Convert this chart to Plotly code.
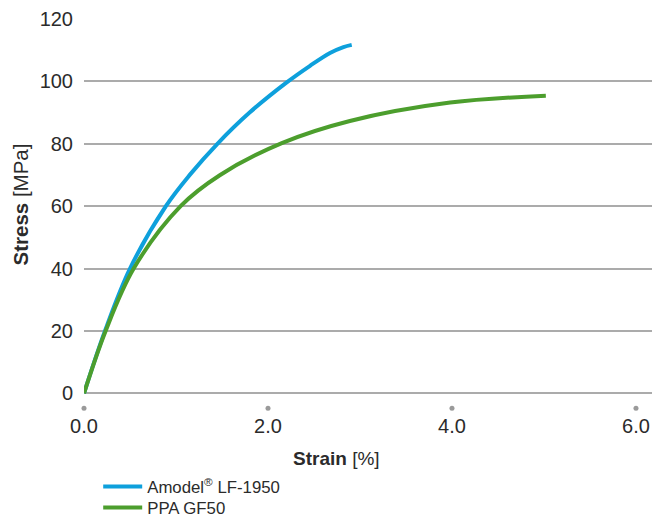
import plotly.graph_objects as go

# ---- data ----
amodel_strain = [0.0, 0.228, 0.50, 0.89, 1.152, 1.45, 1.80, 2.20, 2.457, 2.674, 2.82, 2.91]
amodel_stress = [0.0, 20.0, 40.0, 60.0, 70.1, 80.0, 90.0, 99.6, 105.0, 109.1, 111.0, 111.7]

ppa_strain = [0.0, 0.235, 0.54, 1.05, 1.48, 2.15, 2.89, 3.98, 5.02]
ppa_stress = [0.0, 20.0, 40.0, 60.0, 70.0, 80.2, 87.3, 93.2, 95.4]

series_names = ["Amodel<sup>®</sup> LF-1950", "PPA GF50"]
x_ticks = [0, 2, 4, 6]
x_tick_labels = ["0.0", "2.0", "4.0", "6.0"]
y_ticks = [0, 20, 40, 60, 80, 100, 120]
tick_dot_level = -4.8

BLUE = "#0ea0dc"
GREEN = "#4c9e2d"
GRID = "#ababab"
TEXT = "#2b2b2b"
FONT = "Liberation Sans"

fig = go.Figure()
fig.add_trace(go.Scatter(x=amodel_strain, y=amodel_stress, mode="lines",
                         line=dict(color=BLUE, width=4, shape="spline", smoothing=1.0),
                         name=series_names[0], legend="legend"))
fig.add_trace(go.Scatter(x=ppa_strain, y=ppa_stress, mode="lines",
                         line=dict(color=GREEN, width=4, shape="spline", smoothing=1.0),
                         name=series_names[1], legend="legend2"))
# tick dots under x axis
fig.add_trace(go.Scatter(x=x_ticks, y=[tick_dot_level] * len(x_ticks), mode="markers",
                         marker=dict(color="#9a9a9a", size=5), cliponaxis=False,
                         showlegend=False, hoverinfo="skip"))

legend_common = dict(xanchor="left", yanchor="top",
                     font=dict(size=16.8, color=TEXT, family=FONT),
                     bgcolor="rgba(0,0,0,0)", itemwidth=39)

fig.update_layout(
    width=652, height=517,
    margin=dict(l=84, r=0, t=19, b=105, autoexpand=False),
    paper_bgcolor="white", plot_bgcolor="white",
    font=dict(family=FONT, color=TEXT, size=18),
    showlegend=True,
    legend=dict(x=0.025, y=(412 - 469) / 393, **legend_common),
    legend2=dict(x=0.025, y=(412 - 490) / 393, **legend_common),
    xaxis=dict(range=[0, 6.174], tickvals=x_ticks, ticktext=x_tick_labels,
               showgrid=False, zeroline=False, showline=False, ticks="",
               tickfont=dict(size=20, color=TEXT, family=FONT)),
    yaxis=dict(range=[-6, 120], tickvals=y_ticks,
               showgrid=True, gridcolor=GRID, gridwidth=1.5, zeroline=False, showline=False,
               ticks="outside", ticklen=6, tickcolor="rgba(0,0,0,0)",
               tickfont=dict(size=20, color=TEXT, family=FONT)),
    annotations=[
        dict(text="<b>Strain</b> [%]", xref="paper", yref="paper",
             x=(336 - 84) / 568, y=(412 - 458) / 393, xanchor="center", yanchor="middle",
             showarrow=False, font=dict(size=19, color=TEXT, family=FONT)),
        dict(text="<b>Stress</b> [MPa]", xref="paper", yref="paper",
             x=(19.5 - 84) / 568, y=(412 - 205) / 393, xanchor="center", yanchor="middle",
             textangle=-90, showarrow=False, font=dict(size=20.5, color=TEXT, family=FONT)),
    ],
)

fig.write_html("out.html")
